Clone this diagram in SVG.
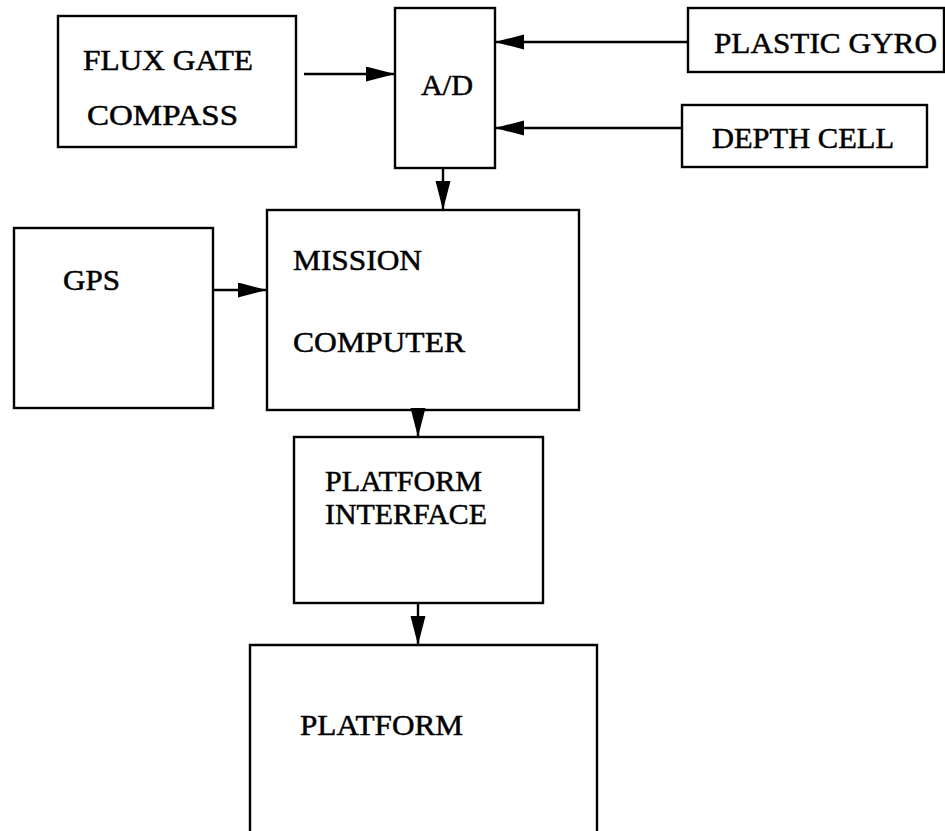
<svg xmlns="http://www.w3.org/2000/svg" width="945" height="831" viewBox="0 0 945 831">
<style>
.box{fill:none;stroke:#000;stroke-width:2.4}
.lbl{font-family:"Liberation Serif","Times New Roman",serif;font-size:29px;fill:#000;stroke:#000;stroke-width:0.5}
.con{stroke:#000;stroke-width:2.4;fill:none;marker-end:url(#ah)}
</style>
<defs>
<marker id="ah" markerUnits="userSpaceOnUse" markerWidth="30" markerHeight="16" refX="29" refY="7.5" orient="auto">
<path d="M0,0 L29,7.5 L0,15 z" fill="#000"/>
</marker>
</defs>
<rect width="945" height="831" fill="#fff"/>
<g id="flux">
<rect class="box" x="58" y="16" width="238" height="131"/>
<text class="lbl" x="83" y="70" textLength="170" lengthAdjust="spacingAndGlyphs">FLUX GATE</text>
<text class="lbl" x="87" y="125" textLength="151" lengthAdjust="spacingAndGlyphs">COMPASS</text>
</g>
<g id="ad">
<rect class="box" x="395" y="8" width="100" height="160"/>
<text class="lbl" x="421" y="95" textLength="52" lengthAdjust="spacingAndGlyphs">A/D</text>
</g>
<g id="gyro">
<rect class="box" x="688" y="8" width="256" height="64"/>
<text class="lbl" x="714" y="53" textLength="223" lengthAdjust="spacingAndGlyphs">PLASTIC GYRO</text>
</g>
<g id="depth">
<rect class="box" x="682" y="105" width="245" height="62"/>
<text class="lbl" x="712" y="148" textLength="182" lengthAdjust="spacingAndGlyphs">DEPTH CELL</text>
</g>
<g id="gps">
<rect class="box" x="14" y="228" width="199" height="180"/>
<text class="lbl" x="63" y="290" textLength="57" lengthAdjust="spacingAndGlyphs">GPS</text>
</g>
<g id="mission">
<rect class="box" x="267" y="210" width="312" height="200"/>
<text class="lbl" x="293" y="270" textLength="129" lengthAdjust="spacingAndGlyphs">MISSION</text>
<text class="lbl" x="293" y="352" textLength="172" lengthAdjust="spacingAndGlyphs">COMPUTER</text>
</g>
<g id="interface">
<rect class="box" x="294" y="437" width="249" height="166"/>
<text class="lbl" x="325" y="491" textLength="157" lengthAdjust="spacingAndGlyphs">PLATFORM</text>
<text class="lbl" x="325" y="524" textLength="162" lengthAdjust="spacingAndGlyphs">INTERFACE</text>
</g>
<g id="platform">
<path class="box" d="M250,835 L250,645 L597,645 L597,835"/>
<text class="lbl" x="300" y="735" textLength="163" lengthAdjust="spacingAndGlyphs">PLATFORM</text>
</g>
<g id="connectors">
<line class="con" x1="304" y1="74" x2="395" y2="74"/>
<line class="con" x1="688" y1="42" x2="495" y2="42"/>
<line class="con" x1="682" y1="128" x2="495" y2="128"/>
<line class="con" x1="443" y1="168" x2="443" y2="210"/>
<line class="con" x1="213" y1="290" x2="267" y2="290"/>
<line class="con" x1="418" y1="410" x2="418" y2="437"/>
<line class="con" x1="418" y1="603" x2="418" y2="645"/>
</g>
</svg>
